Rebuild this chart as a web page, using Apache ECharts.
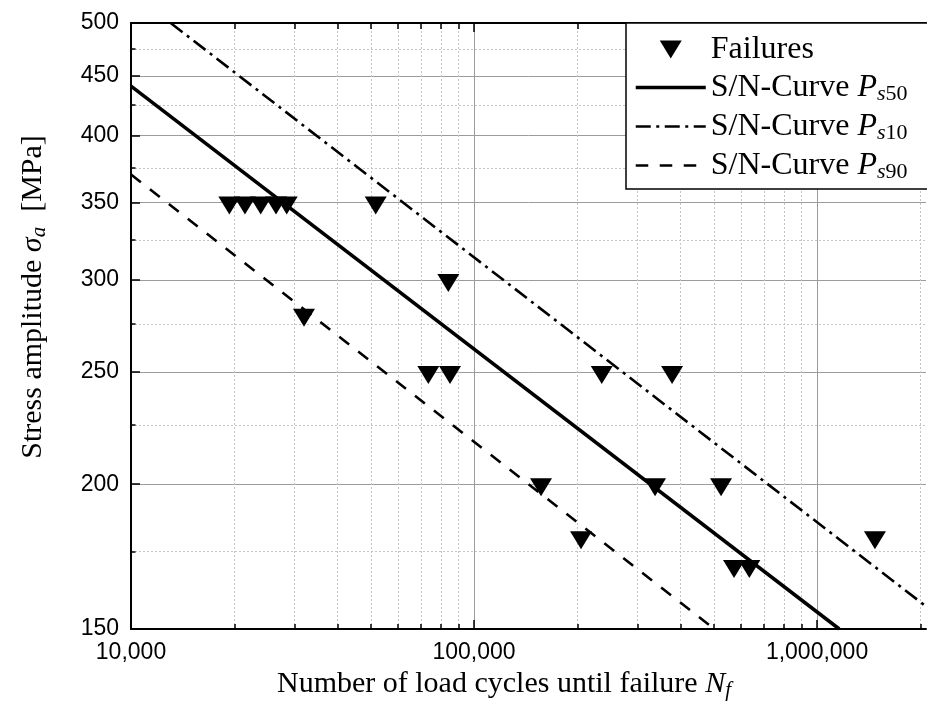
<!DOCTYPE html>
<html><head><meta charset="utf-8">
<script src="https://cdn.jsdelivr.net/npm/echarts@6/dist/echarts.min.js"></script>
<style>html,body{margin:0;padding:0;background:#fff}#c{width:927px;height:706px}</style>
</head><body><div id="c"></div>
<script>
// ---- data ----
const xMajorTicks = [10000, 100000, 1000000];
const xMinorTicks = [20000, 30000, 40000, 50000, 60000, 70000, 80000, 90000,
  200000, 300000, 400000, 500000, 600000, 700000, 800000, 900000, 2000000];
const yMajorTicks = [150, 200, 250, 300, 350, 400, 450, 500];
const yMinorTicks = [175, 225, 275, 325, 375, 425, 475];

const failureCycles = [19350, 21490, 23880, 26470, 28440, 51690, 84150, 31940,
  73590, 85110, 235700, 377900, 156800, 337100, 525000, 205100, 1475000, 572800, 634800];
const failureStress = [350, 350, 350, 350, 350, 350, 300, 280,
  250, 250, 250, 250, 200, 200, 200, 180, 180, 170, 170];

const ps50Cycles = [10000, 1161000];
const ps50Stress = [441, 150];
const ps10Cycles = [13050, 2078000];
const ps10Stress = [500, 156.9];
const ps90Cycles = [10000, 502000];
const ps90Stress = [370, 150];

const X_MIN = 10000, X_MAX = 2078000, Y_MIN = 150, Y_MAX = 500;

// ---- helpers ----
const SERIF = 'Liberation Serif';
const SANS = 'Liberation Sans';
function commas(v) { return String(Math.round(v)).replace(/\B(?=(\d{3})+(?!\d))/g, ','); }
function pairs(xs, ys) { return xs.map((x, i) => [x, ys[i]]); }
function richSet(size, subSize, subPad, lh) {
  return {
    t: { fontFamily: SERIF, fontSize: size, lineHeight: lh, verticalAlign: 'top', color: '#000' },
    i: { fontFamily: SERIF, fontSize: size, fontStyle: 'italic', lineHeight: lh, verticalAlign: 'top', color: '#000' },
    si: { fontFamily: SERIF, fontSize: subSize, fontStyle: 'italic', lineHeight: subSize, padding: [subPad, 0, 0, 0], verticalAlign: 'top', color: '#000' },
    s: { fontFamily: SERIF, fontSize: subSize, lineHeight: subSize, padding: [subPad, 0, 0, 0], verticalAlign: 'top', color: '#000' }
  };
}
const TRI = 'path://M0,0 L22,0 L11,18 Z';
const MAJOR_GRID = { show: true, lineStyle: { color: '#9c9c9c', width: 1, type: 'solid' } };
const MINOR_GRID = { show: true, lineStyle: { color: '#c4c4c4', width: 1, type: [2, 2] } };

function xAxisDef(opts) {
  return Object.assign({
    type: 'log', logBase: 10, min: X_MIN, max: X_MAX, gridIndex: 0,
    axisLine: { show: false },
    axisLabel: { show: false },
    splitLine: { show: false },
    minorTick: { show: false }, minorSplitLine: { show: false }
  }, opts);
}
function yAxisDef(opts) {
  return Object.assign({
    type: 'log', logBase: 10, min: Y_MIN, max: Y_MAX, gridIndex: 0,
    axisLine: { show: false },
    axisLabel: { show: false },
    splitLine: { show: false },
    minorTick: { show: false }, minorSplitLine: { show: false }
  }, opts);
}

const legendRich = richSet(32, 22, 11, 31);
const legendText = {
  'Failures': '{t|Failures}',
  'S/N-Curve Ps50': '{t|S/N-Curve }{i|P}{si|s}{s|50}',
  'S/N-Curve Ps10': '{t|S/N-Curve }{i|P}{si|s}{s|10}',
  'S/N-Curve Ps90': '{t|S/N-Curve }{i|P}{si|s}{s|90}'
};
const HIDE_SYM = { opacity: 0 };

const option = {
  animation: false,
  backgroundColor: '#fff',
  grid: { left: 131, right: 1, top: 23, bottom: 77, containLabel: false, outerBoundsMode: 'none' },
  xAxis: [
    xAxisDef({
      position: 'bottom',
      axisLine: { show: true, onZero: false, lineStyle: { color: '#000', width: 2 } },
      axisTick: { show: true, inside: true, length: 9, customValues: xMajorTicks, lineStyle: { color: '#000', width: 1.5 } },
      axisLabel: { show: true, customValues: xMajorTicks, formatter: v => commas(v), fontFamily: SANS, fontSize: 23, color: '#000', margin: 12, showMinLabel: true, showMaxLabel: true, hideOverlap: false },
      splitLine: MAJOR_GRID,
      name: '{t|Number of load cycles until failure }{i|N}{si|f}',
      nameLocation: 'middle', nameGap: 39,
      nameTextStyle: { padding: [0, 49, 0, 0], rich: richSet(30, 21, 11, 31) }
    }),
    xAxisDef({
      position: 'bottom',
      axisTick: { show: true, inside: true, length: 5, customValues: xMinorTicks, lineStyle: { color: '#000', width: 1.5 } },
      splitLine: MINOR_GRID
    }),
    xAxisDef({
      position: 'top',
      axisLine: { show: true, onZero: false, lineStyle: { color: '#000', width: 2 } },
      axisTick: { show: true, inside: true, length: 9, customValues: xMajorTicks, lineStyle: { color: '#000', width: 1.5 } }
    }),
    xAxisDef({
      position: 'top',
      axisTick: { show: true, inside: true, length: 6, customValues: xMinorTicks, lineStyle: { color: '#000', width: 1.5 } }
    })
  ],
  yAxis: [
    yAxisDef({
      position: 'left',
      axisLine: { show: true, onZero: false, lineStyle: { color: '#000', width: 2 } },
      axisTick: { show: true, inside: true, length: 9, customValues: yMajorTicks, lineStyle: { color: '#000', width: 1.5 } },
      axisLabel: { show: true, customValues: yMajorTicks, formatter: v => String(Math.round(v)), fontFamily: SANS, fontSize: 23, color: '#000', margin: 12, showMinLabel: true, showMaxLabel: true, hideOverlap: false },
      splitLine: MAJOR_GRID,
      name: '{t|Stress amplitude }{i|σ}{si|a}{t|  [MPa]}',
      nameLocation: 'middle', nameGap: 82,
      nameTextStyle: { padding: [0, 0, 0, 58], rich: richSet(30, 21, 11, 31) }
    }),
    yAxisDef({
      position: 'left',
      axisTick: { show: true, inside: true, length: 4.5, customValues: yMinorTicks, lineStyle: { color: '#000', width: 1.5 } },
      splitLine: MINOR_GRID
    })
  ],
  legend: {
    orient: 'vertical',
    left: 626, top: 23,
    padding: [11, 30, 6, 8],
    itemWidth: 70, itemHeight: 18, itemGap: 6,
    backgroundColor: '#fff',
    borderColor: '#000', borderWidth: 1.5, borderRadius: 0,
    selectedMode: false,
    lineStyle: { width: 'inherit' },
    data: [
      { name: 'Failures', icon: TRI },
      { name: 'S/N-Curve Ps50', itemStyle: HIDE_SYM },
      { name: 'S/N-Curve Ps10', itemStyle: HIDE_SYM },
      { name: 'S/N-Curve Ps90', itemStyle: HIDE_SYM }
    ],
    formatter: name => legendText[name],
    textStyle: { fontFamily: SERIF, fontSize: 32, color: '#000', rich: legendRich }
  },
  series: [
    {
      name: 'Failures', type: 'scatter', xAxisIndex: 0, yAxisIndex: 0,
      data: pairs(failureCycles, failureStress),
      symbol: TRI, symbolSize: [22, 18], symbolOffset: [0, 3],
      itemStyle: { color: '#000', opacity: 1 }, z: 5
    },
    {
      name: 'S/N-Curve Ps50', type: 'line', xAxisIndex: 0, yAxisIndex: 0,
      data: pairs(ps50Cycles, ps50Stress), symbol: 'none', showSymbol: false,
      lineStyle: { color: '#000', width: 3.5, type: 'solid' }, itemStyle: { color: '#000', opacity: 0 }, z: 4
    },
    {
      name: 'S/N-Curve Ps10', type: 'line', xAxisIndex: 0, yAxisIndex: 0,
      data: pairs(ps10Cycles, ps10Stress), symbol: 'none', showSymbol: false,
      lineStyle: { color: '#000', width: 2.6, type: [15, 5.5, 3, 5.5] }, itemStyle: { color: '#000', opacity: 0 }, z: 4
    },
    {
      name: 'S/N-Curve Ps90', type: 'line', xAxisIndex: 0, yAxisIndex: 0,
      data: pairs(ps90Cycles, ps90Stress), symbol: 'none', showSymbol: false,
      lineStyle: { color: '#000', width: 2.6, type: [12.5, 11.5] }, itemStyle: { color: '#000', opacity: 0 }, z: 4
    }
  ]
};
const chart = echarts.init(document.getElementById('c'), null, { renderer: 'canvas' });
chart.setOption(option);
</script></body></html>
